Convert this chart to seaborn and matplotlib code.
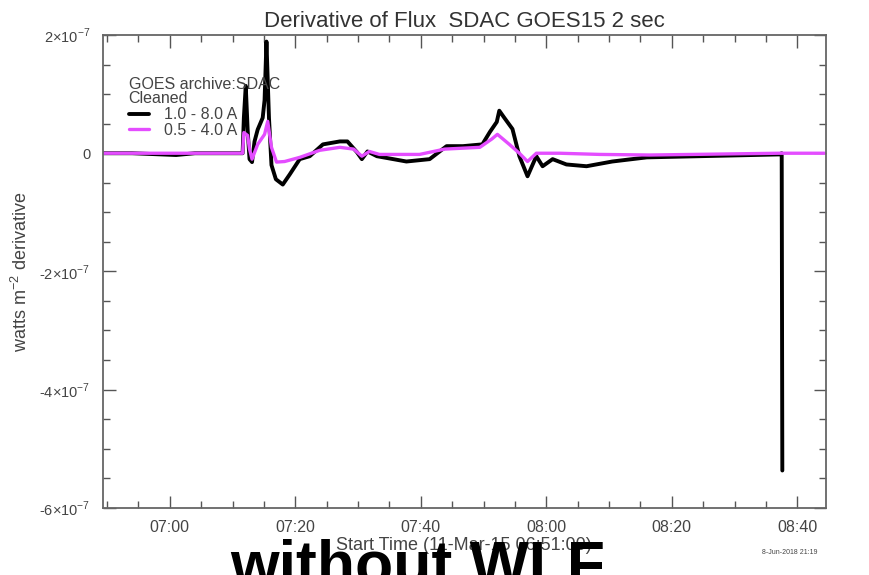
import numpy as np
import pandas as pd
import matplotlib
matplotlib.use("Agg")
import matplotlib.pyplot as plt
import matplotlib.dates as mdates
import seaborn as sns

# -----------------------------------------
# Data
# minutes after 07:00, derivative in units of 1e-7 W m^-2
# -----------------------------------------
long_min = [-10.7, -6.0, 1.0, 4.0, 11.6, 11.8, 12.1, 12.4, 12.7, 13.1, 13.5,
            14.0, 14.8, 15.1, 15.4, 15.8, 16.2, 16.9, 18.0, 19.1, 20.7, 22.3,
            24.4, 27.1, 28.3, 29.8, 30.6, 31.5, 33.0, 37.7, 41.4, 44.1, 46.7,
            49.8, 51.0, 52.1, 52.5, 53.3, 54.6, 55.7, 57.0, 58.4, 59.4, 61.0,
            63.2, 66.4, 70.5, 76.0, 84.4, 97.1, 97.5, 97.6]
long_val = [0.0, 0.0, -0.03, 0.0, 0.0, 0.6, 1.14, 0.4, -0.1, -0.15, 0.2,
            0.4, 0.6, 0.9, 1.89, 0.6, -0.2, -0.44, -0.53, -0.36, -0.1, -0.05,
            0.15, 0.2, 0.2, 0.02, -0.1, 0.03, -0.05, -0.14, -0.1, 0.12, 0.12,
            0.15, 0.36, 0.53, 0.72, 0.6, 0.41, -0.05, -0.39, -0.05, -0.22, -0.1,
            -0.19, -0.22, -0.14, -0.07, -0.05, -0.02, 0.0, -5.37]

short_min = [-10.7, 11.6, 11.8, 12.4, 12.7, 13.1, 14.0, 15.1, 15.6, 16.2,
             17.0, 18.3, 20.7, 23.9, 27.1, 29.3, 30.6, 31.8, 33.4, 39.8,
             43.8, 49.4, 51.3, 52.2, 54.1, 55.7, 57.0, 58.4, 62.1, 68.5,
             76.4, 97.1, 104.3]
short_val = [0.0, 0.0, 0.35, 0.3, 0.07, -0.1, 0.15, 0.32, 0.54, 0.1,
             -0.15, -0.14, -0.07, 0.05, 0.1, 0.07, -0.05, 0.03, -0.02, -0.02,
             0.07, 0.1, 0.24, 0.32, 0.15, 0.0, -0.14, 0.0, 0.0, -0.02,
             -0.03, 0.0, 0.0]

yticks = [2e-7, 0, -2e-7, -4e-7, -6e-7]
ytick_labels = [r"2$\times$10$^{-7}$", "0", r"-2$\times$10$^{-7}$",
                r"-4$\times$10$^{-7}$", r"-6$\times$10$^{-7}$"]

t0 = pd.Timestamp("2015-03-11 07:00")


def to_frame(mins, vals):
    return pd.DataFrame({
        "time": t0 + pd.to_timedelta(mins, unit="m"),
        "deriv": np.array(vals) * 1e-7,
    })


df_long = to_frame(long_min, long_val)
df_short = to_frame(short_min, short_val)

# -----------------------------------------
# Plot
# -----------------------------------------
sns.set_style("ticks")
plt.rcParams["font.family"] = ["Liberation Sans", "DejaVu Sans"]
plt.rcParams["mathtext.fontset"] = "custom"
plt.rcParams["mathtext.rm"] = "Liberation Sans"

txt = "#444444"
fig = plt.figure(figsize=(8.7, 5.75), dpi=100)
ax = fig.add_axes([0.118, 0.117, 0.831, 0.822])

sns.lineplot(data=df_long, x="time", y="deriv", ax=ax, color="black",
             lw=2.8, sort=False, estimator=None, label="1.0 - 8.0 A")
sns.lineplot(data=df_short, x="time", y="deriv", ax=ax, color="#e44dff",
             lw=2.4, sort=False, estimator=None, label="0.5 - 4.0 A")

ax.set_xlim(t0 + pd.Timedelta(minutes=-10.7), t0 + pd.Timedelta(minutes=104.5))
ax.set_ylim(-6e-7, 2e-7)

ax.xaxis.set_major_locator(mdates.MinuteLocator(byminute=[0, 20, 40]))
ax.xaxis.set_minor_locator(mdates.MinuteLocator(byminute=range(0, 60, 5)))
ax.xaxis.set_major_formatter(mdates.DateFormatter("%H:%M"))
ax.set_yticks(yticks)
ax.set_yticklabels(ytick_labels)
ax.set_yticks(np.arange(-6e-7, 2.01e-7, 0.5e-7), minor=True)

ax.tick_params(which="both", direction="in", top=True, right=True,
               colors="#555555", labelcolor=txt, width=1.0)
ax.tick_params(axis="x", which="major", labelsize=11.5, pad=9)
ax.tick_params(axis="y", which="major", labelsize=10.5, pad=9)
ax.tick_params(which="major", length=9)
ax.tick_params(which="minor", length=5)
for s in ax.spines.values():
    s.set_color("#666666")
    s.set_linewidth(1.3)

ax.set_title("Derivative of Flux  SDAC GOES15 2 sec", fontsize=16,
             color="#333333", pad=6)
ax.set_xlabel("Start Time (11-Mar-15 06:51:00)", fontsize=13, color=txt,
              labelpad=1)
ax.set_ylabel("watts m$^{-2}$ derivative", fontsize=13, color=txt, labelpad=6)

leg = ax.legend(title="GOES archive:SDAC\nCleaned", loc="upper left",
                bbox_to_anchor=(0.027, 0.925), frameon=False, fontsize=11.5,
                title_fontsize=11.5, handlelength=1.3, handletextpad=0.9,
                labelspacing=0.05, borderaxespad=0, alignment="left")
leg.get_title().set_linespacing(0.95)
for t in leg.get_texts():
    t.set_color(txt)
leg.get_title().set_color(txt)

fig.text(0.48, -0.017, "without WLF", fontsize=45, fontweight="bold",
         ha="center", va="baseline", color="black")
fig.text(0.908, 0.036, "8-Jun-2018 21:19", fontsize=5, color=txt,
         ha="center")

fig.savefig("out.png", dpi=100)
